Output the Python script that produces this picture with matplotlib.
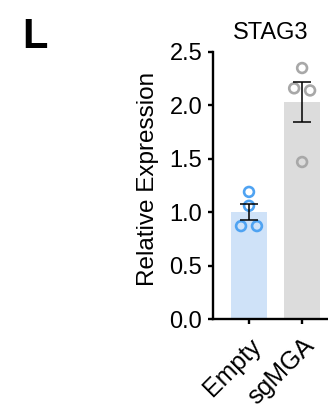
import matplotlib
matplotlib.use('Agg')
import matplotlib.pyplot as plt
import numpy as np

plt.rcParams['font.family'] = ['Liberation Sans', 'DejaVu Sans']

# values
groups = ['Empty', 'sgMGA']
means = [1.00, 2.03]
sem = [0.075, 0.19]
points_empty = [1.19, 1.06, 0.87, 0.87]
points_sgmga = [2.35, 2.16, 2.14, 1.47]
yticks = [0.0, 0.5, 1.0, 1.5, 2.0, 2.5]

bar_colors = ['#cfe2f8', '#dcdcdc']
dot_colors = ['#4fa3f2', '#a8a8a8']
jitter_empty = [0.0, 0.0, -0.15, 0.15]
jitter_sgmga = [0.0, -0.15, 0.15, 0.0]

fig = plt.figure(figsize=(3.28, 4.13), dpi=100)
ax = fig.add_axes([0.649, 0.2276, 0.3506, 0.6465])

x = np.arange(len(groups))
ax.bar(x, means, width=0.68, color=bar_colors, zorder=1)

for i, (pts, jit) in enumerate([(points_empty, jitter_empty), (points_sgmga, jitter_sgmga)]):
    ax.scatter(x[i] + np.array(jit), pts, s=50, facecolors='none',
               edgecolors=dot_colors[i], linewidths=1.9, zorder=2)

ax.errorbar(x, means, yerr=sem, fmt='none', ecolor='black', elinewidth=1.1,
            capsize=6.8, capthick=1.1, zorder=3)

ax.set_xlim(-0.68, 1.485)
ax.set_ylim(0, 2.5)
ax.set_yticks(yticks)
ax.set_yticklabels(['%.1f' % v for v in yticks])
ax.set_xticks(x)
ax.set_xticklabels(groups, rotation=45, ha='right', rotation_mode='anchor', fontsize=18)

for side in ['top', 'right']:
    ax.spines[side].set_visible(False)
for side in ['left', 'bottom']:
    ax.spines[side].set_linewidth(1.7)
ax.tick_params(axis='both', width=1.7, length=3.6, pad=4)
ax.tick_params(axis='y', labelsize=17)
ax.tick_params(axis='x', pad=7)

ax.set_ylabel('Relative Expression', fontsize=17.5, va='center')
ax.yaxis.set_label_coords(-0.565, 0.526)
ax.set_title('STAG3', fontsize=17, pad=9)

fig.text(22 / 328, 1 - 48.3 / 413, 'L', fontsize=30, fontweight='bold',
         ha='left', va='baseline')

fig.savefig('out.png', dpi=100)
